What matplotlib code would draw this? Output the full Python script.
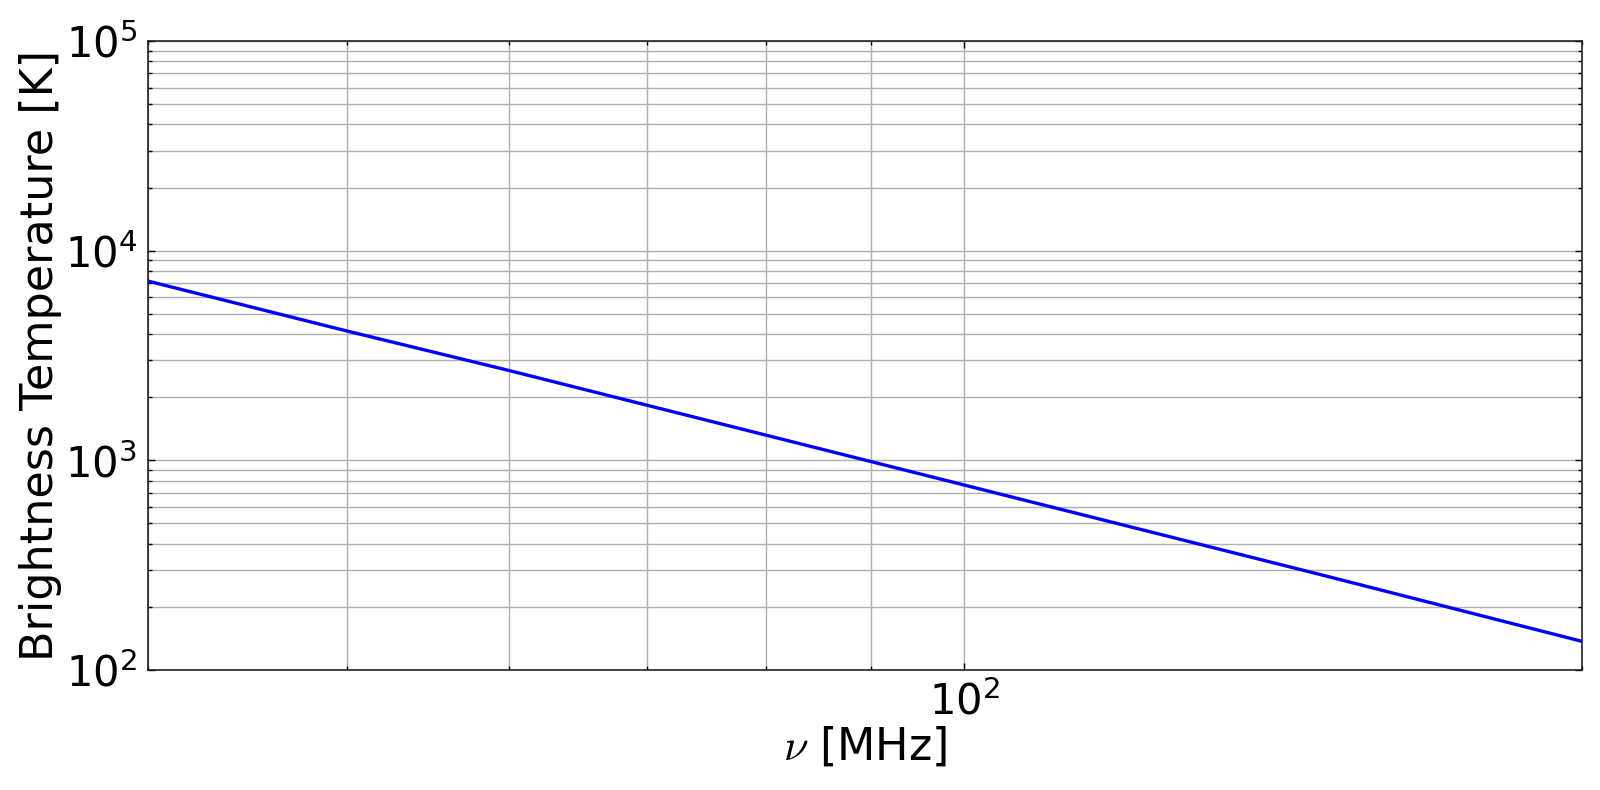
import matplotlib
matplotlib.use("Agg")
import matplotlib.pyplot as plt
from matplotlib.ticker import LogLocator, NullFormatter

freq_mhz = [40, 50, 60, 80, 100, 150, 200]
temp_k = [7160, 4140, 2680, 1320, 762, 281, 137]

fig = plt.figure(figsize=(16, 7.9), dpi=100)
ax = fig.add_axes([148/1600, 1 - 670/790, (1582-148)/1600, (670-41)/790])

ax.loglog(freq_mhz, temp_k, color="blue", lw=2.4, zorder=3)
ax.set_xlim(40, 200)
ax.set_ylim(1e2, 1e5)

ax.xaxis.set_major_locator(LogLocator(base=10))
ax.xaxis.set_minor_locator(LogLocator(base=10, subs=range(2, 10)))
ax.xaxis.set_minor_formatter(NullFormatter())
ax.yaxis.set_minor_locator(LogLocator(base=10, subs=range(2, 10)))
ax.yaxis.set_minor_formatter(NullFormatter())

ax.grid(True, which="both", color="#b0b0b0", lw=1.0, zorder=0)
ax.tick_params(which="both", direction="in", top=True, right=True,
               labelsize=30, width=1, color="black")
ax.tick_params(which="major", length=5, pad=8)
ax.tick_params(which="minor", length=3)
for s in ax.spines.values():
    s.set_linewidth(1.2)
    s.set_color("#222222")

ax.set_xlabel(r"$\nu$ [MHz]", fontsize=32, labelpad=1, math_fontfamily="cm")
ax.set_ylabel("Brightness Temperature [K]", fontsize=32, labelpad=2)

fig.savefig("out.png", dpi=100)
